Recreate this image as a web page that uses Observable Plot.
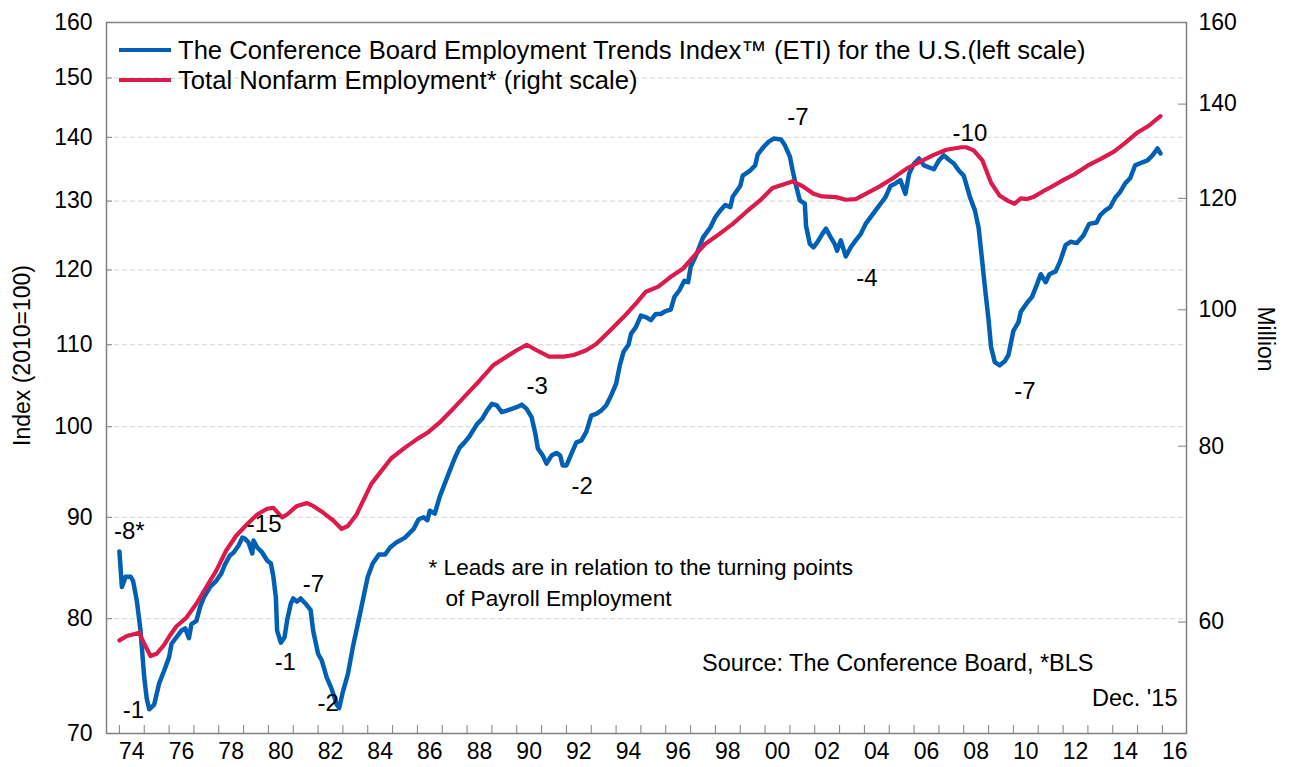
<!DOCTYPE html>
<html><head><meta charset="utf-8">
<script src="https://cdn.jsdelivr.net/npm/d3@7"></script>
<script src="https://cdn.jsdelivr.net/npm/@observablehq/plot@0.6"></script>
<style>
body{margin:0;background:#fff;font-family:"Liberation Sans",Arial,sans-serif;}
#wrap{position:relative;width:1289px;height:767px;overflow:hidden;}
#legend{position:absolute;left:119px;top:35px;font-size:25.6px;color:#000;}
.row{display:flex;align-items:center;height:30px;white-space:nowrap;}
.sw{width:52px;height:4px;margin-right:7px;}
</style></head><body><div id="wrap"><div id="chart"></div><div id="legend"></div></div>
<script>
// ---- data ----
const etiSeries = [
[1974.00,86.5],[1974.10,83.0],[1974.25,84.0],[1974.45,84.0],[1974.55,83.6],[1974.70,81.7],[1974.85,78.9],
[1975.00,74.7],[1975.10,72.9],[1975.20,72.0],[1975.40,72.4],[1975.60,74.2],[1975.80,75.3],
[1976.00,76.5],[1976.10,77.7],[1976.30,78.3],[1976.50,78.9],[1976.65,79.1],[1976.80,78.2],[1976.90,79.5],
[1977.10,79.8],[1977.25,81.1],[1977.40,82.0],[1977.65,83.0],[1977.90,83.6],
[1978.10,84.3],[1978.25,85.2],[1978.45,86.1],[1978.60,86.4],[1978.80,87.1],[1978.95,87.9],
[1979.05,87.8],[1979.20,87.4],[1979.35,86.3],[1979.40,87.6],[1979.55,86.9],[1979.75,86.4],[1979.95,85.6],
[1980.10,85.3],[1980.20,84.0],[1980.30,82.0],[1980.35,78.9],[1980.50,77.8],[1980.65,78.3],[1980.75,79.8],[1980.90,81.4],
[1981.00,81.9],[1981.15,81.6],[1981.30,81.9],[1981.50,81.4],[1981.70,80.8],[1981.80,78.9],
[1982.00,76.8],[1982.15,76.2],[1982.35,74.7],[1982.55,73.7],[1982.75,72.4],[1982.85,72.1],
[1983.00,73.5],[1983.20,75.0],[1983.40,77.4],[1983.60,79.5],[1983.80,81.7],
[1984.00,84.0],[1984.20,85.3],[1984.45,86.2],[1984.70,86.2],[1984.90,86.9],
[1985.15,87.4],[1985.50,87.9],[1985.85,88.8],
[1986.05,89.8],[1986.25,90.0],[1986.40,89.7],[1986.50,90.7],[1986.70,90.4],[1986.90,92.2],
[1987.10,93.6],[1987.30,95.0],[1987.50,96.4],[1987.70,97.6],[1987.90,98.2],
[1988.10,98.9],[1988.40,100.3],[1988.60,100.9],[1988.80,101.9],
[1989.00,102.7],[1989.20,102.5],[1989.40,101.7],[1989.60,101.9],[1989.80,102.1],
[1990.00,102.3],[1990.20,102.6],[1990.40,102.1],[1990.60,101.1],[1990.75,99.2],[1990.85,97.5],
[1991.05,96.7],[1991.20,95.8],[1991.40,96.7],[1991.60,97.0],[1991.75,96.7],[1991.85,95.6],
[1992.00,95.6],[1992.20,96.9],[1992.40,98.2],[1992.60,98.4],[1992.80,99.4],
[1993.00,101.3],[1993.20,101.5],[1993.40,101.9],[1993.60,102.5],[1993.80,103.7],
[1994.00,105.1],[1994.15,107.4],[1994.30,109.1],[1994.50,110.0],[1994.60,111.4],[1994.80,112.3],
[1995.00,113.8],[1995.20,113.6],[1995.40,113.2],[1995.60,114.0],[1995.80,114.0],
[1996.00,114.4],[1996.20,114.6],[1996.35,116.3],[1996.55,117.2],[1996.75,118.5],[1996.90,118.3],
[1997.00,120.4],[1997.25,122.3],[1997.50,124.6],[1997.80,126.1],
[1998.00,127.6],[1998.20,128.6],[1998.40,129.4],[1998.60,129.1],[1998.70,130.7],
[1999.00,132.3],[1999.10,133.9],[1999.40,134.7],[1999.60,135.5],[1999.70,137.2],[1999.95,138.5],
[2000.15,139.3],[2000.35,139.8],[2000.55,139.7],[2000.65,139.6],[2000.80,138.7],
[2001.00,136.9],[2001.10,134.9],[2001.25,132.3],[2001.40,130.1],[2001.60,129.6],[2001.65,126.3],[2001.80,123.7],[2001.95,123.2],
[2002.10,123.9],[2002.30,125.1],[2002.45,125.9],[2002.65,124.6],[2002.80,123.7],[2002.90,122.7],
[2003.05,124.2],[2003.25,121.9],[2003.45,123.2],[2003.65,124.2],[2003.85,125.1],
[2004.05,126.6],[2004.25,127.6],[2004.45,128.6],[2004.65,129.6],[2004.85,130.6],
[2005.05,132.3],[2005.25,132.7],[2005.45,133.2],[2005.65,131.1],[2005.80,134.2],
[2006.00,135.8],[2006.20,136.6],[2006.40,135.5],[2006.60,135.2],[2006.80,134.9],
[2007.00,136.3],[2007.20,137.1],[2007.40,136.4],[2007.60,135.8],[2007.80,134.7],
[2008.00,133.9],[2008.25,130.6],[2008.45,128.6],[2008.60,126.0],[2008.72,122.0],[2008.85,117.7],
[2009.00,113.2],[2009.10,109.7],[2009.25,107.8],[2009.45,107.4],[2009.65,107.9],[2009.80,108.7],
[2010.00,111.8],[2010.20,112.9],[2010.30,114.3],[2010.55,115.5],[2010.75,116.3],[2010.95,118.0],
[2011.10,119.4],[2011.30,118.3],[2011.45,119.4],[2011.70,119.8],[2011.88,121.2],
[2012.10,123.5],[2012.30,124.0],[2012.55,123.8],[2012.82,124.9],
[2013.05,126.6],[2013.35,126.8],[2013.50,127.9],[2013.70,128.6],[2013.90,129.1],
[2014.10,130.5],[2014.30,131.4],[2014.50,132.7],[2014.70,133.5],[2014.90,135.5],
[2015.20,136.0],[2015.40,136.3],[2015.60,137.1],[2015.80,138.2],[2015.92,137.4]
];
// Total nonfarm employment, millions
const payrollSeries = [
[1974.00,78.0],[1974.30,78.4],[1974.80,78.7],[1975.00,77.7],[1975.25,76.6],[1975.50,76.8],[1975.80,77.6],
[1976.05,78.5],[1976.30,79.3],[1976.70,80.1],[1977.10,81.4],[1977.50,83.0],[1977.90,84.6],
[1978.30,86.6],[1978.70,88.1],[1979.15,89.3],[1979.55,90.3],[1979.95,90.9],
[1980.20,91.0],[1980.55,90.0],[1980.75,90.3],[1981.15,91.2],[1981.55,91.5],[1981.80,91.2],
[1982.20,90.5],[1982.60,89.7],[1982.95,88.8],[1983.20,89.1],[1983.55,90.3],[1983.75,91.4],
[1984.15,93.6],[1984.55,95.0],[1984.95,96.4],[1985.50,97.6],[1986.00,98.6],[1986.45,99.4],[1986.90,100.5],
[1987.50,102.3],[1988.00,103.9],[1988.50,105.5],[1989.05,107.4],[1989.60,108.5],
[1990.00,109.3],[1990.40,110.0],[1990.80,109.3],[1991.30,108.5],[1991.90,108.5],[1992.30,108.7],[1992.80,109.3],
[1993.20,110.1],[1993.75,111.8],[1994.30,113.6],[1994.80,115.4],[1995.20,117.0],[1995.70,117.7],
[1996.15,118.9],[1996.70,120.2],[1997.20,122.2],[1997.60,123.7],[1998.15,125.1],[1998.70,126.6],
[1999.25,128.4],[1999.80,130.1],[2000.30,132.0],[2000.70,132.5],[2001.10,133.0],[2001.50,132.3],[2001.95,131.1],
[2002.30,130.7],[2002.85,130.6],[2003.25,130.2],[2003.65,130.3],[2004.05,131.1],[2004.60,132.2],
[2005.15,133.5],[2005.70,135.0],[2006.25,136.1],[2006.75,137.1],[2007.30,138.0],[2007.90,138.4],
[2008.10,138.4],[2008.40,137.9],[2008.75,136.3],[2009.10,132.8],[2009.45,130.8],[2009.80,130.0],
[2010.05,129.6],[2010.30,130.4],[2010.55,130.3],[2010.80,130.6],[2011.20,131.5],[2011.45,132.0],
[2012.00,133.2],[2012.45,134.1],[2013.00,135.5],[2013.50,136.5],[2014.05,137.7],[2014.50,139.1],
[2015.00,140.8],[2015.45,141.9],[2015.92,143.5]
];
const leadLabels = ["-8*","-1","-15","-7","-1","-2","-3","-2","-7","-10","-4","-7"];
const leadYears  = [1974.40,1974.56,1979.83,1981.81,1980.68,1982.41,1990.82,1992.63,2001.32,2008.25,2004.10,2010.46];
const leadValues = [88.6,71.9,89.3,83.3,76.0,72.5,104.8,93.3,143.3,140.6,118.9,104.2];
const leftTicks  = [70,80,90,100,110,120,130,140,150,160];
const gridTicks  = [80,90,100,110,120,130,140,150];
const rightTicks = [60,80,100,120,140,160];
const labelYears = d3.range(1974, 2017, 2);
const yearTicks  = d3.range(1974, 2017);
const seriesNames = ["The Conference Board Employment Trends Index\u2122 (ETI) for the U.S.(left scale)",
                     "Total Nonfarm Employment* (right scale)"];
const colors = ["#0060B4", "#DC1A4C"];

// right-scale (log 50..160) expressed in left-scale (log 70..160) units
const toLeft  = v => 70 * Math.pow(160/70, Math.log(v/50) / Math.log(160/50));
const toRight = d => 50 * Math.pow(160/50, Math.log(d/70) / Math.log(160/70));

const eti = etiSeries.map(([t, v]) => ({t, v}));
const pay = payrollSeries.map(([t, v]) => ({t, v}));
const leads = leadLabels.map((s, i) => ({s, t: leadYears[i], v: leadValues[i]}));

const F = "'Liberation Sans', Arial, sans-serif";
const chart = Plot.plot({
  width: 1289, height: 767,
  marginLeft: 106, marginRight: 103, marginTop: 22, marginBottom: 34,
  style: {fontFamily: F, fontSize: "23px", color: "#000", background: "#fff", overflow: "visible"},
  x: {domain: [1973.48, 2016.97]},
  y: {type: "log", domain: [70, 160]},
  marks: [
    Plot.gridY(gridTicks, {stroke: "#d6d6d6", strokeOpacity: 1, strokeWidth: 1, strokeDasharray: "5,3"}),
    // ticks (inward)
    Plot.axisY({ticks: leftTicks, anchor: "left", tickSize: 6, dx: 6, tickFormat: () => "", stroke: "#808080", label: null}),
    Plot.axisY({ticks: rightTicks.map(toLeft), anchor: "right", tickSize: 9, dx: -9, tickFormat: () => "", stroke: "#808080", label: null}),
    Plot.axisX({ticks: yearTicks, anchor: "bottom", tickSize: 8, dy: -8, tickFormat: () => "", stroke: "#808080", label: null}),
    // tick labels
    Plot.axisY({ticks: leftTicks, anchor: "left", tickSize: 0, tickPadding: 14, tickFormat: d => String(d), fill: "#000", fontSize: 23, label: null}),
    Plot.axisY({ticks: rightTicks.map(toLeft), anchor: "right", tickSize: 0, tickPadding: 12, tickFormat: d => String(Math.round(toRight(d))), fill: "#000", fontSize: 23, label: null}),
    Plot.axisX({ticks: labelYears.map(y => y + 0.5), anchor: "bottom", tickSize: 0, tickPadding: 9, tickFormat: d => String(Math.floor(d) % 100).padStart(2, "0"), fill: "#000", fontSize: 23, label: null}),
    Plot.frame({stroke: "#808080", strokeWidth: 1.5}),
    // series
    Plot.line(eti, {x: "t", y: "v", stroke: colors[0], strokeWidth: 4.5, strokeLinejoin: "round"}),
    Plot.line(pay, {x: "t", y: "v", stroke: colors[1], strokeWidth: 4.2, strokeLinejoin: "round"}),
    // lead annotations
    Plot.text(leads, {x: "t", y: "v", text: "s", fontSize: 24, fill: "#000", textAnchor: "middle", lineAnchor: "middle"}),
    // axis titles
    Plot.text(["Index (2010=100)"], {frameAnchor: "left", dx: -83.5, dy: -22.5, rotate: -90, textAnchor: "middle", lineAnchor: "middle", fontSize: 23, fill: "#000"}),
    Plot.text(["Million"], {frameAnchor: "right", dx: 79, dy: -39, rotate: 90, textAnchor: "middle", lineAnchor: "middle", fontSize: 23, fill: "#000"}),
    // notes
    Plot.text(["* Leads are in relation to the turning points"], {frameAnchor: "top-left", dx: 322, dy: 545, textAnchor: "start", lineAnchor: "middle", fontSize: 22.6, fill: "#000"}),
    Plot.text(["of Payroll Employment"], {frameAnchor: "top-left", dx: 339, dy: 576, textAnchor: "start", lineAnchor: "middle", fontSize: 22.6, fill: "#000"}),
    Plot.text(["Source: The Conference Board, *BLS"], {frameAnchor: "top-right", dx: -93, dy: 641, textAnchor: "end", lineAnchor: "middle", fontSize: 23.5, fill: "#000"}),
    Plot.text(["Dec. '15"], {frameAnchor: "top-right", dx: -9, dy: 676, textAnchor: "end", lineAnchor: "middle", fontSize: 23.5, fill: "#000"})
  ]
});
document.getElementById("chart").appendChild(chart);

const legend = document.getElementById("legend");
seriesNames.forEach((name, i) => {
  const row = document.createElement("div");
  row.className = "row";
  const sw = document.createElement("span");
  sw.className = "sw";
  sw.style.background = colors[i];
  const tx = document.createElement("span");
  tx.textContent = name;
  row.appendChild(sw); row.appendChild(tx);
  legend.appendChild(row);
});
</script></body></html>
